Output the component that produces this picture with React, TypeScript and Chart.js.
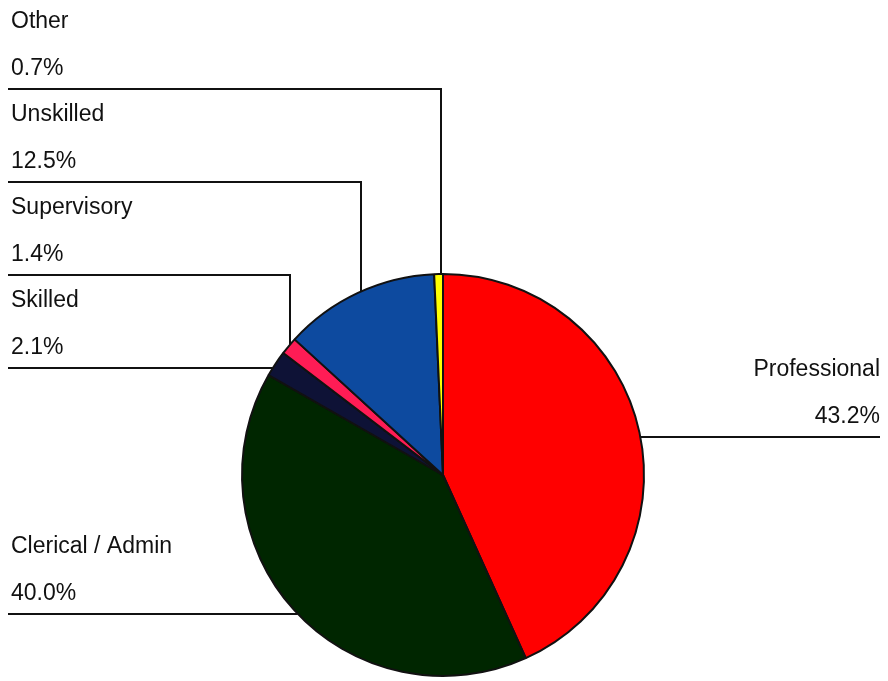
import React, { useEffect, useRef } from "react";
import { Chart, registerables } from "chart.js";

Chart.register(...registerables);

const categories = ["Professional", "Clerical / Admin", "Skilled", "Supervisory", "Unskilled", "Other"];
const shares = [43.2, 40.0, 2.1, 1.4, 12.5, 0.7];
const valueLabels = ["43.2%", "40.0%", "2.1%", "1.4%", "12.5%", "0.7%"];
const sliceColors = ["#ff0000", "#002600", "#0e1236", "#ff1c55", "#0d4a9f", "#ffff00"];

// leader-line layout: side, horizontal line y, optional vertical x
const leaderSide = ["right", "left", "left", "left", "left", "left"];
const leaderY = [437, 614, 368, 275, 182, 89];
const leaderX: (number | null)[] = [null, null, null, 290, 361, 441];

const FONT = '23px "Liberation Sans", Arial, sans-serif';

const leaderPlugin = {
  id: "leaders",
  afterDraw(chart: any) {
    const ctx = chart.ctx;
    const arc = chart.getDatasetMeta(0).data[0];
    if (!arc) return;
    const cx = arc.x;
    const cy = arc.y;
    const r = arc.outerRadius;
    ctx.save();
    ctx.strokeStyle = "#111";
    ctx.lineWidth = 2;
    ctx.fillStyle = "#111";
    ctx.font = FONT;
    ctx.textBaseline = "alphabetic";
    for (let i = 0; i < categories.length; i++) {
      const y = leaderY[i];
      const vx = leaderX[i];
      ctx.beginPath();
      if (leaderSide[i] === "right") {
        const ex = cx + Math.sqrt(Math.max(r * r - (y - cy) * (y - cy), 0));
        ctx.moveTo(880, y);
        ctx.lineTo(ex, y);
        ctx.stroke();
        ctx.textAlign = "right";
        ctx.fillText(categories[i], 880, y - 61);
        ctx.fillText(valueLabels[i], 880, y - 14);
      } else {
        ctx.moveTo(8, y);
        if (vx !== null) {
          const ey = cy - Math.sqrt(Math.max(r * r - (vx - cx) * (vx - cx), 0));
          ctx.lineTo(vx, y);
          ctx.lineTo(vx, ey);
        } else {
          const ex = cx - Math.sqrt(Math.max(r * r - (y - cy) * (y - cy), 0));
          ctx.lineTo(ex, y);
        }
        ctx.stroke();
        ctx.textAlign = "left";
        ctx.fillText(categories[i], 11, y - 61);
        ctx.fillText(valueLabels[i], 11, y - 14);
      }
    }
    ctx.restore();
  },
};

export default function App() {
  const ref = useRef<HTMLCanvasElement | null>(null);
  useEffect(() => {
    if (!ref.current) return;
    const chart = new Chart(ref.current, {
      type: "pie",
      data: {
        labels: categories,
        datasets: [
          {
            data: shares,
            backgroundColor: sliceColors,
            borderColor: "#111",
            borderWidth: 2,
          },
        ],
      },
      options: {
        responsive: false,
        animation: false,
        radius: 201,
        layout: { padding: { top: 269, bottom: 0, left: 0, right: 2 } },
        plugins: {
          legend: { display: false },
          tooltip: { enabled: false },
          title: { display: false },
        },
      } as any,
      plugins: [leaderPlugin],
    });
    return () => chart.destroy();
  }, []);
  return (
    <div style={{ position: "absolute", left: 0, top: 0, width: 888, height: 681, background: "#fff" }}>
      <canvas ref={ref} width={888} height={681} style={{ display: "block" }} />
    </div>
  );
}
